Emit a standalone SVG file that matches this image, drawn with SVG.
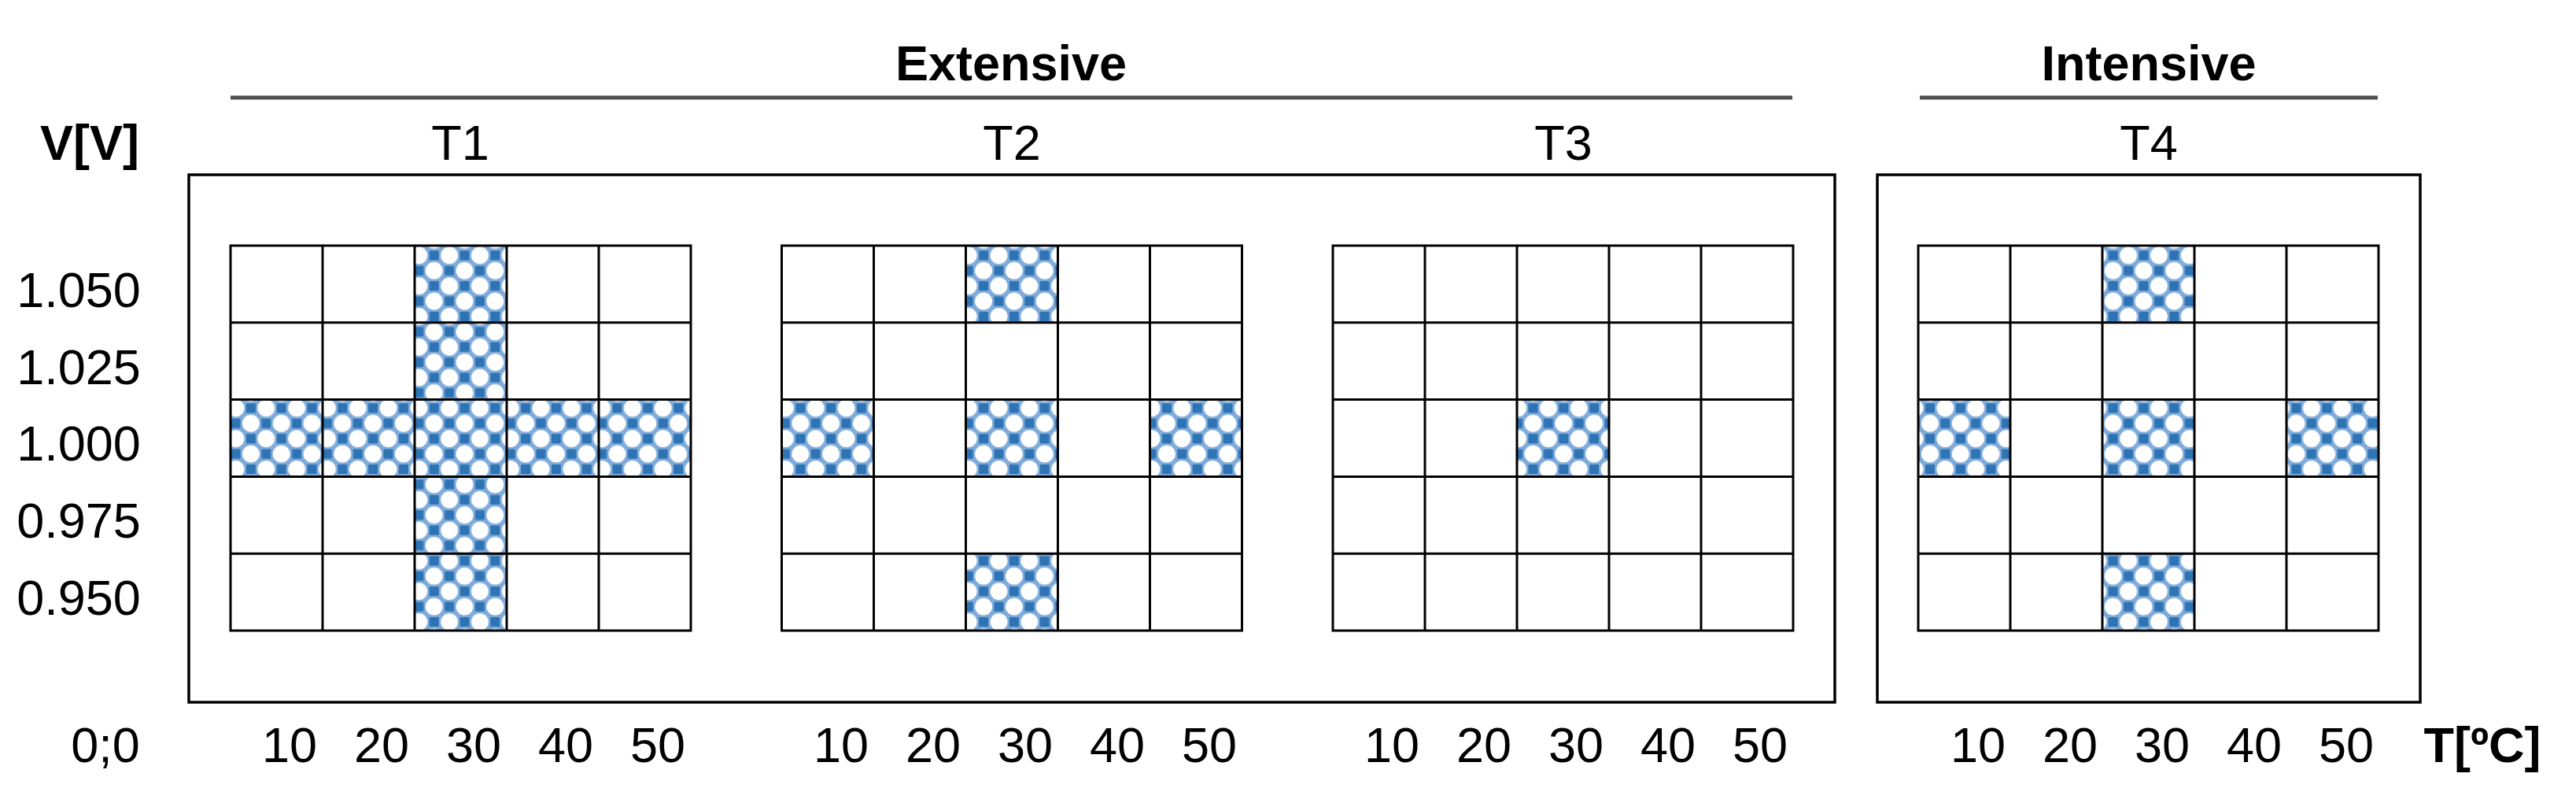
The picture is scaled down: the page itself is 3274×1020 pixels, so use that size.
<svg xmlns="http://www.w3.org/2000/svg" width="3274" height="1020" viewBox="0 0 3274 1020">
<style>
text{font-family:"Liberation Sans",Arial,sans-serif;font-size:63px;fill:#000;text-anchor:middle}
.b{font-weight:bold}
.grid{stroke:#000;stroke-width:3;fill:none}
.box{stroke:#000;stroke-width:3.5;fill:none}
.hdr{stroke:#505050;stroke-width:5}
.fill{fill:url(#chk);stroke:none}
</style>
<defs>
<pattern id="chk" patternUnits="userSpaceOnUse" width="38.8" height="38.8" x="8.5" y="14">
<rect width="38.8" height="38.8" fill="#80abd9"/>
<circle cx="19.4" cy="0" r="11" fill="#fff"/>
<circle cx="0" cy="19.4" r="11" fill="#fff"/>
<circle cx="38.8" cy="19.4" r="11" fill="#fff"/>
<circle cx="19.4" cy="38.8" r="11" fill="#fff"/>
<rect x="-6" y="-6" width="12" height="12" fill="#2e74b5"/>
<rect x="32.8" y="-6" width="12" height="12" fill="#2e74b5"/>
<rect x="-6" y="32.8" width="12" height="12" fill="#2e74b5"/>
<rect x="32.8" y="32.8" width="12" height="12" fill="#2e74b5"/>
<rect x="13.4" y="13.4" width="12" height="12" fill="#2e74b5"/>
</pattern>
<g id="gridlines">
<path class="grid" d="M0 0H585V489H0Z M117 0V489 M234 0V489 M351 0V489 M468 0V489 M0 97.8H585 M0 195.6H585 M0 293.4H585 M0 391.2H585"/>
</g>
</defs>

<g id="headers">
<line class="hdr" x1="293" y1="124" x2="2278" y2="124"/>
<text class="b" x="1285" y="102">Extensive</text>
<line class="hdr" x1="2440" y1="124" x2="3022" y2="124"/>
<text class="b" x="2731" y="102">Intensive</text>
</g>

<g id="axes">
<text class="b" x="114" y="203">V[V]</text>
<text x="100" y="390">1.050</text>
<text x="100" y="488">1.025</text>
<text x="100" y="585">1.000</text>
<text x="100" y="683">0.975</text>
<text x="100" y="781">0.950</text>
<text x="134" y="968">0;0</text>
<text class="b" x="3155" y="968">T[ºC]</text>
</g>

<g id="box-extensive"><rect class="box" x="240" y="222" width="2092" height="670"/></g>
<g id="box-intensive"><rect class="box" x="2386" y="222" width="690" height="670"/></g>

<g id="T1">
<text x="585" y="203">T1</text>
<rect class="fill" x="527" y="312" width="117" height="489"/>
<rect class="fill" x="293" y="507.6" width="585" height="97.8"/>
<use href="#gridlines" x="293" y="312"/>
<text x="368" y="968">10</text><text x="485" y="968">20</text><text x="602" y="968">30</text><text x="719" y="968">40</text><text x="836" y="968">50</text>
</g>

<g id="T2">
<text x="1286" y="203">T2</text>
<rect class="fill" x="1227.5" y="312" width="117" height="97.8"/>
<rect class="fill" x="993.5" y="507.6" width="117" height="97.8"/>
<rect class="fill" x="1227.5" y="507.6" width="117" height="97.8"/>
<rect class="fill" x="1461.5" y="507.6" width="117" height="97.8"/>
<rect class="fill" x="1227.5" y="703.2" width="117" height="97.8"/>
<use href="#gridlines" x="993.5" y="312"/>
<text x="1069" y="968">10</text><text x="1186" y="968">20</text><text x="1303" y="968">30</text><text x="1420" y="968">40</text><text x="1537" y="968">50</text>
</g>

<g id="T3">
<text x="1987" y="203">T3</text>
<rect class="fill" x="1928" y="507.6" width="117" height="97.8"/>
<use href="#gridlines" x="1694" y="312"/>
<text x="1769" y="968">10</text><text x="1886" y="968">20</text><text x="2003" y="968">30</text><text x="2120" y="968">40</text><text x="2237" y="968">50</text>
</g>

<g id="T4">
<text x="2731" y="203">T4</text>
<rect class="fill" x="2672" y="312" width="117" height="97.8"/>
<rect class="fill" x="2438" y="507.6" width="117" height="97.8"/>
<rect class="fill" x="2672" y="507.6" width="117" height="97.8"/>
<rect class="fill" x="2906" y="507.6" width="117" height="97.8"/>
<rect class="fill" x="2672" y="703.2" width="117" height="97.8"/>
<use href="#gridlines" x="2438" y="312"/>
<text x="2514" y="968">10</text><text x="2631" y="968">20</text><text x="2748" y="968">30</text><text x="2865" y="968">40</text><text x="2982" y="968">50</text>
</g>

<g id="connectors"/>
</svg>
